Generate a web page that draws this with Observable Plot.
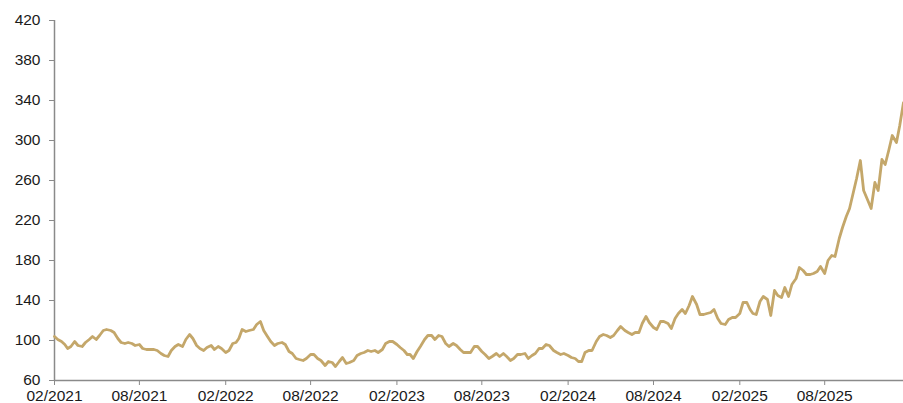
<!DOCTYPE html>
<html><head><meta charset="utf-8">
<script src="https://cdn.jsdelivr.net/npm/d3@7"></script>
<script src="https://cdn.jsdelivr.net/npm/@observablehq/plot@0.6"></script>
<style>body{margin:0;background:#fff}#chart svg{display:block}</style>
</head><body><div id="chart"></div>
<script>
// Readings taken on these days of each month
const sampleDays = [1, 8, 16, 23];

// Values, four readings per month (Feb 2021 onwards)
const v2021 = [ // Feb..Dec
  104, 101, 99, 96,   92, 94, 99, 95,   94, 98, 101, 104,   101, 105, 110, 111,
  110, 108, 102, 98,  97, 98, 97, 95,   96, 92, 91, 91,     91, 90, 87, 85,
  84, 90, 94, 96,     94, 101, 106, 102, 95, 92, 90, 93
];
const v2022 = [ // Jan..Dec
  95, 91, 94, 92,     88, 90, 97, 98,   102, 111, 109, 110, 111, 116, 119, 110,
  104, 99, 95, 97,    98, 96, 89, 87,   82, 81, 80, 82,     86, 86, 82, 80,
  75, 79, 78, 74,     79, 83, 77, 78,   80, 85, 87, 88,     90, 89, 90, 88
];
const v2023 = [
  91, 97, 99, 99,     96, 93, 90, 86,   86, 82, 89, 94,     101, 105, 105, 101,
  105, 104, 97, 94,   97, 95, 91, 88,   88, 88, 94, 94,     89, 86, 82, 84,
  87, 84, 87, 84,     80, 82, 86, 86,   87, 82, 85, 87,     92, 92, 96, 95
];
const v2024 = [
  90, 88, 86, 87,     85, 83, 82, 79,   79, 88, 90, 90,     99, 104, 106, 105,
  103, 105, 110, 114, 110, 108, 106, 108, 108, 117, 124, 118, 113, 111, 119, 119,
  117, 112, 122, 127, 131, 127, 135, 144, 136, 126, 126, 127, 128, 131, 122, 117
];
const v2025 = [
  116, 121, 123, 123, 127, 138, 138, 131, 127, 126, 139, 144, 141, 125, 150, 145,
  143, 153, 144, 156, 162, 173, 170, 166, 166, 167, 169, 174, 167, 180, 185, 184,
  202, 213, 224, 232, 248, 262, 280, 250, 240, 232, 258, 250, 281, 276, 291, 305
];
const v2026 = [298, 315, 338]; // Jan

const yTicks = [60, 100, 140, 180, 220, 260, 300, 340, 380, 420];
const xTickLabels = ["02/2021", "08/2021", "02/2022", "08/2022", "02/2023", "08/2023", "02/2024", "08/2024", "02/2025", "08/2025"];

function build(year, startMonth, vals) {
  return vals.map((v, i) => ({
    date: new Date(Date.UTC(year, startMonth + Math.floor(i / 4), sampleDays[i % 4])),
    value: v
  }));
}
const data = [
  ...build(2021, 1, v2021), ...build(2022, 0, v2022), ...build(2023, 0, v2023),
  ...build(2024, 0, v2024), ...build(2025, 0, v2025), ...build(2026, 0, v2026)
];
const parse = d3.utcParse("%m/%Y");
const xTicks = xTickLabels.map(parse);
const x0 = data[0].date, x1 = data[data.length - 1].date;

const axisGray = "#8a8a8a";
const chart = Plot.plot({
  width: 903, height: 403,
  marginLeft: 54, marginRight: 0, marginTop: 20, marginBottom: 23,
  style: {fontFamily: "'Liberation Sans', Arial, sans-serif", fontSize: "15.5px", background: "#fff", color: "#1a1a1a"},
  x: {type: "utc", domain: [x0, x1]},
  y: {domain: [60, 420]},
  marks: [
    Plot.axisY({ticks: yTicks, tickSize: 5, tickPadding: 9, stroke: axisGray, fill: "#1a1a1a", label: null}),
    Plot.axisX({ticks: xTicks, tickFormat: d3.utcFormat("%m/%Y"), tickSize: 5, tickPadding: 4, stroke: axisGray, fill: "#1a1a1a", label: null}),
    Plot.ruleX([x0], {stroke: axisGray, strokeWidth: 1.5}),
    Plot.ruleY([60], {stroke: axisGray, strokeWidth: 1.5}),
    Plot.lineY(data, {x: "date", y: "value", stroke: "#c4a76a", strokeWidth: 2.8, strokeLinejoin: "round"})
  ]
});
document.getElementById("chart").appendChild(chart);
</script>
</body></html>
